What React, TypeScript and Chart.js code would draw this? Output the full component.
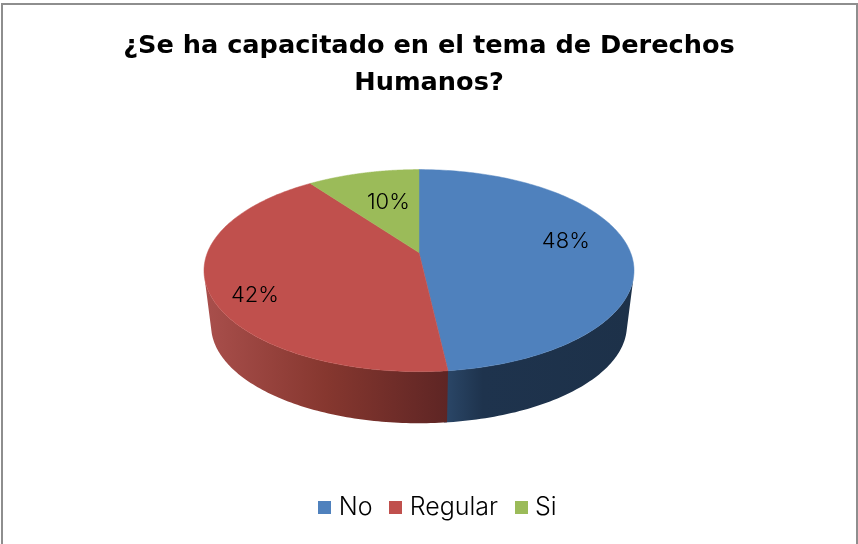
import React, { useEffect, useRef } from "react";
import { Chart, registerables } from "chart.js";

Chart.register(...registerables);

const titleLines = ["¿Se ha capacitado en el tema de Derechos", "Humanos?"];
const categories = ["No", "Regular", "Si"];
const values = [48.2, 41.8, 10];
const percentLabels = ["48%", "42%", "10%"];
const topColors = ["#4F81BD", "#C0504D", "#9BBB59"];
const wallStops: string[][] = [
  ["#2B4768", "#1E334D", "#1D3149"],
  ["#A94F4C", "#86372F", "#5E2524"],
];

// 3D look: projective tilt of the circle and the rim below it
const PIE_RADIUS = 215;
const OFFSET_X = -10;
const OFFSET_Y = -40;
const LEGEND_SHIFT = 11;
const TILT = 0.178;
const SQUASH_X = 0.984;
const SQUASH_Y = 0.4549;
const RIM_SCALE = 0.967;
const ELLIPSE_CENTER_SHIFT = 18;
const RIM_DROP = 55;
const WALL_OVERLAP = 0.012;
const labelFraction = [0.7, 0.79, 0.6];
const labelNudgeY = [-7, 13, 0];
const labelNudgeX = [0, 0, 5];
const SWATCH = 13;

function project(a: number, f: number, cx: number, cy: number, R: number) {
  const u = Math.cos(a) * f;
  const v = Math.sin(a) * f;
  const d = 1 - TILT * v;
  return { x: cx + (R * SQUASH_X * u) / d, y: cy + (R * SQUASH_Y * v) / d };
}

function makeSwatch(color: string) {
  const c = document.createElement("canvas");
  c.width = SWATCH;
  c.height = SWATCH;
  const g = c.getContext("2d") as CanvasRenderingContext2D;
  g.fillStyle = color;
  g.fillRect(0, 0, SWATCH, SWATCH);
  return c;
}

const pie3d = {
  id: "pie3d",
  afterLayout(chart: any) {
    chart.legend.left += LEGEND_SHIFT;
    chart.legend.right += LEGEND_SHIFT;
  },
  beforeDatasetDraw(chart: any, args: any) {
    const { ctx } = chart;
    const arcs = args.meta.data;
    const R = arcs[0].outerRadius;
    const cx = arcs[0].x + OFFSET_X;
    const cy = arcs[0].y + OFFSET_Y;
    const rim = (a: number) => {
      const p = project(a, 1, cx, cy, R);
      return {
        x: cx + RIM_SCALE * (p.x - cx),
        y: cy + ELLIPSE_CENTER_SHIFT + RIM_DROP + RIM_SCALE * (p.y - cy - ELLIPSE_CENTER_SHIFT),
      };
    };
    const STEPS = 160;
    ctx.save();
    // walls: swept quads between the top edge and the lower rim, front-facing only
    [0, 1].forEach((i) => {
      const { startAngle } = arcs[i];
      const endAngle = arcs[i].endAngle + (i === 0 ? WALL_OVERLAP : 0);
      const at = (s: number) => startAngle + ((endAngle - startAngle) * s) / STEPS;
      let minX = Infinity;
      let maxX = -Infinity;
      ctx.beginPath();
      for (let s = 0; s < STEPS; s++) {
        const t0 = project(at(s), 1, cx, cy, R);
        const t1 = project(at(s + 1), 1, cx, cy, R);
        const r0 = rim(at(s));
        const r1 = rim(at(s + 1));
        const cross = (t1.x - t0.x) * (r0.y - t0.y) - (t1.y - t0.y) * (r0.x - t0.x);
        if (cross >= 0) continue;
        minX = Math.min(minX, t0.x, t1.x);
        maxX = Math.max(maxX, t0.x, t1.x);
        ctx.moveTo(t0.x, t0.y);
        ctx.lineTo(t1.x, t1.y);
        ctx.lineTo(r1.x, r1.y);
        ctx.lineTo(r0.x, r0.y);
        ctx.closePath();
      }
      if (!isFinite(minX)) return;
      const g = ctx.createLinearGradient(minX, 0, Math.max(maxX, minX + 1), 0);
      const stops = wallStops[i];
      g.addColorStop(0, stops[0]);
      g.addColorStop(i === 0 ? 0.2 : 0.5, stops[1]);
      g.addColorStop(1, stops[2]);
      ctx.fillStyle = g;
      ctx.fill();
    });
    // top surface
    arcs.forEach((arc: any, i: number) => {
      ctx.beginPath();
      ctx.moveTo(cx, cy);
      for (let s = 0; s <= STEPS; s++) {
        const a = arc.startAngle + ((arc.endAngle - arc.startAngle) * s) / STEPS;
        const p = project(a, 1, cx, cy, R);
        ctx.lineTo(p.x, p.y);
      }
      ctx.closePath();
      ctx.fillStyle = topColors[i];
      ctx.strokeStyle = topColors[i];
      ctx.lineWidth = 0.5;
      ctx.fill();
      ctx.stroke();
    });
    // percentage labels
    ctx.fillStyle = "#000";
    ctx.font = "300 22px Inter";
    ctx.textAlign = "center";
    ctx.textBaseline = "middle";
    arcs.forEach((arc: any, i: number) => {
      const mid = (arc.startAngle + arc.endAngle) / 2;
      const p = project(mid, labelFraction[i], cx, cy, R);
      ctx.fillText(percentLabels[i], p.x + labelNudgeX[i], p.y + labelNudgeY[i]);
    });
    ctx.restore();
    return false;
  },
};

export default function App() {
  const ref = useRef<HTMLCanvasElement>(null);
  useEffect(() => {
    const swatches = topColors.map(makeSwatch);
    const chart = new Chart(ref.current as HTMLCanvasElement, {
      type: "pie",
      data: {
        labels: categories,
        datasets: [{ data: values, backgroundColor: topColors, borderWidth: 0, radius: PIE_RADIUS } as any],
      },
      plugins: [pie3d as any],
      options: {
        responsive: false,
        animation: false,
        layout: { padding: { top: 28, bottom: 14, left: 0, right: 0 } },
        plugins: {
          tooltip: { enabled: false },
          title: {
            display: true,
            text: titleLines,
            color: "#000",
            font: { family: "'DejaVu Sans'", size: 25.6, weight: "bold", lineHeight: 1.44 },
            padding: { top: 0, bottom: 10 },
          },
          legend: {
            position: "bottom",
            labels: {
              color: "#000",
              usePointStyle: true,
              boxWidth: 3,
              boxHeight: 13,
              padding: 21.5,
              font: { family: "Inter", size: 25, weight: "300" },
              generateLabels(c: any) {
                const items = (Chart as any).overrides.pie.plugins.legend.labels.generateLabels(c);
                items.forEach((it: any, i: number) => {
                  it.pointStyle = swatches[i];
                });
                return items;
              },
            },
          },
        },
      },
    });
    return () => chart.destroy();
  }, []);
  return (
    <div style={{ position: "absolute", left: 0, top: 0, width: 858, height: 544, background: "#fff", overflow: "hidden" }}>
      <canvas ref={ref} width={858} height={544} style={{ display: "block", position: "absolute", left: 0, top: 0 }} />
      <div
        style={{
          position: "absolute",
          left: 1,
          top: 3,
          width: 853,
          height: 560,
          borderTop: "2px solid #8E8E8E",
          borderLeft: "2px solid #8E8E8E",
          borderRight: "2px solid #8E8E8E",
        }}
      />
    </div>
  );
}
